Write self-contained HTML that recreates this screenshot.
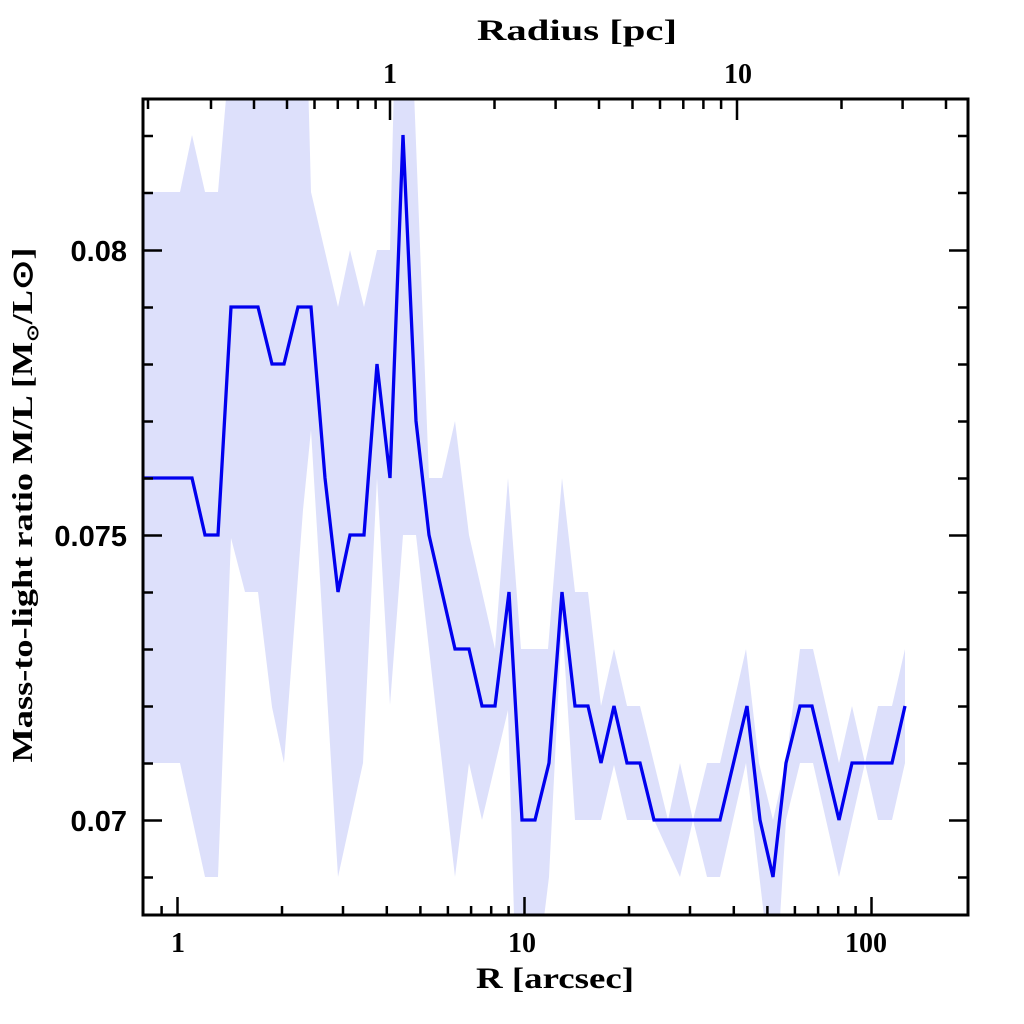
<!DOCTYPE html>
<html><head><meta charset="utf-8"><style>html,body{margin:0;padding:0;background:#fff}svg{display:block}</style></head>
<body>
<svg width="1024" height="1024" viewBox="0 0 1024 1024" xmlns="http://www.w3.org/2000/svg">
<defs><clipPath id="c"><rect x="143" y="99" width="825" height="816"/></clipPath></defs>
<g clip-path="url(#c)">
<polygon fill="#dde0fb" points="
143,192 180,192 192,135 205,192 218,192 231,40 307,40 311,192 338,307 350,250 364,307 377,250 390,250 395,40 412,40 429,478 442,478 455,421 469,535 482,592 495,649 508,478 521,649 548,649 562,478 575,592 588,592 601,706 614,649 627,706 640,706 654,763 668,820 680,763 693,820 707,763 720,763 746,649 759,763 773,820 786,763 800,649 813,649 839,763 852,706 865,763 878,706 892,706 905,649
905,763 892,820 878,820 865,763 852,820 839,877 813,763 800,763 786,820 778,950 768,950 746,763 720,877 707,877 693,820 680,877 654,820 627,820 614,765 601,820 575,820 562,620 549,877 540,950 515,950 508,710 482,820 469,763 455,877 429,649 416,535 403,535 390,705 377,478 363,763 338,877 311,430 303,510 284,763 272,707 258,592 245,592 231,538 218,877 205,877 180,763 143,763"/>
<polyline fill="none" stroke="#0000ee" stroke-width="3.3" stroke-linejoin="miter" points="
143,478 192,478 205,535 218,535 231,307 258,307 272,364 284,364 298,307 311,307 325,478 338,592 350,535 364,535 377,364 390,478 403,135 416,421 429,535 455,649 469,649 482,706 495,706 509,592 522,820 535,820 549,763 562,592 575,706 588,706 601,763 614,706 627,763 640,763 654,820 720,820 747,706 760,820 773,877 786,763 800,706 812,706 839,820 852,763 892,763 905,706"/>
</g>
<rect x="143" y="99" width="825" height="816" fill="none" stroke="#000" stroke-width="3"/>
<g stroke="#000" stroke-width="2.5">
<path d="M143,250.5h19M143,535.5h19M143,820.5h19M968,250.5h-19M968,535.5h-19M968,820.5h-19
M143,136h10M143,193h10M143,307.5h10M143,364.5h10M143,421.5h10M143,478.5h10M143,592.5h10M143,649.5h10M143,706.5h10M143,763.5h10M143,877.5h10
M968,136h-10M968,193h-10M968,307.5h-10M968,364.5h-10M968,421.5h-10M968,478.5h-10M968,592.5h-10M968,649.5h-10M968,706.5h-10M968,763.5h-10M968,877.5h-10"/>
<path d="M177.5,915v-18M524.5,915v-18M871.5,915v-18
M161.6,915v-9M282,915v-9M343,915v-9M386.8,915v-9M420.4,915v-9M447.9,915v-9M471.1,915v-9M491.2,915v-9M508.6,915v-9
M629,915v-9M690,915v-9M733.8,915v-9M767.4,915v-9M794.9,915v-9M818.1,915v-9M838.2,915v-9M855.6,915v-9"/>
<path d="M390,99v21M737,99v21
M148,99v10M211,99v10M254,99v10M287,99v10M314.5,99v10M337.8,99v10M357.9,99v10M375.6,99v10
M494.5,99v10M555.6,99v10M599,99v10M632.5,99v10M660,99v10M683.3,99v10M703.4,99v10M721.1,99v10
M841.5,99v10M902.6,99v10M946,99v10"/>
</g>
<g font-family="Liberation Sans, sans-serif" font-weight="bold" font-size="29" text-anchor="end" fill="#000">
<text x="127" y="261">0.08</text>
<text x="127" y="546">0.075</text>
<text x="127" y="831">0.07</text>
</g>
<g font-family="Liberation Serif, serif" font-weight="bold" font-size="28" text-anchor="middle" fill="#000">
<text x="178" y="952">1</text>
<text x="522" y="952">10</text>
<text x="866" y="952">100</text>
<text x="390" y="83">1</text>
<text x="738" y="83">10</text>
<text x="555" y="988" font-size="30" textLength="158" lengthAdjust="spacingAndGlyphs">R [arcsec]</text>
<text x="577" y="40" font-size="30" textLength="200" lengthAdjust="spacingAndGlyphs">Radius [pc]</text>
<text transform="translate(32,505) rotate(-90)" font-size="28" textLength="515" lengthAdjust="spacingAndGlyphs">Mass-to-light ratio M/L [M<tspan font-size="16" dy="6">⊙</tspan><tspan dy="-6">/L⊙]</tspan></text>
</g>
</svg>
</body></html>
